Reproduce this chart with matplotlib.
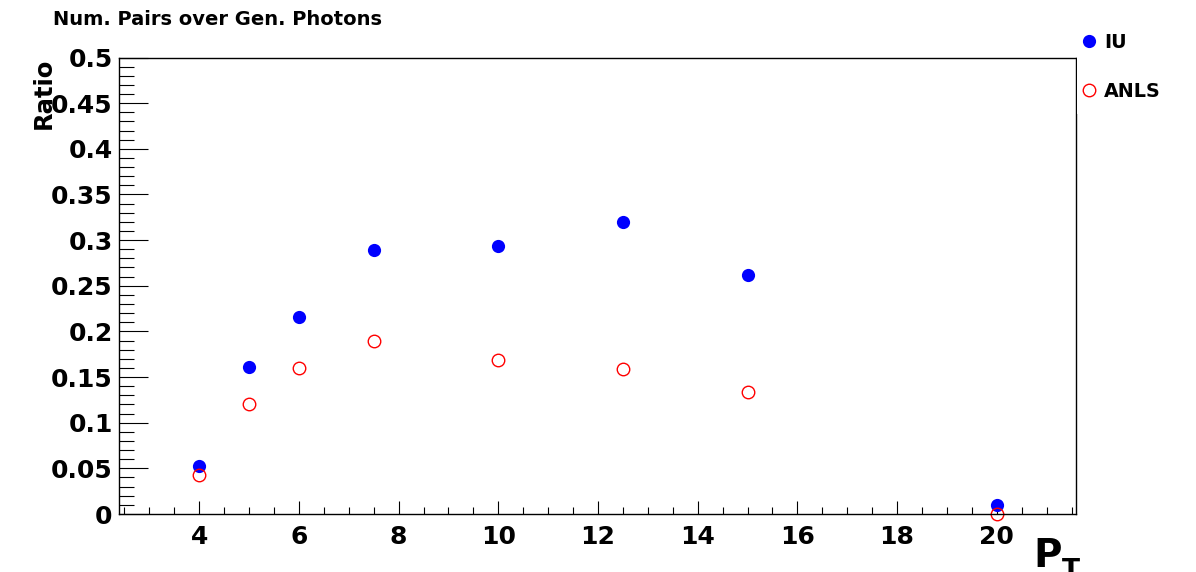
import numpy as np
import matplotlib
matplotlib.use("Agg")
import matplotlib.pyplot as plt
from matplotlib.patches import Rectangle
from matplotlib.lines import Line2D
from matplotlib.ticker import MultipleLocator

plt.rcParams['font.family'] = ['DejaVu Sans']
plt.rcParams['font.weight'] = 'bold'

pt = [4, 5, 6, 7.5, 10, 12.5, 15, 20]
iu = [0.0526, 0.1607, 0.2154, 0.289, 0.2935, 0.3198, 0.2618, 0.0095]
anls = [0.0427, 0.1201, 0.1596, 0.189, 0.1687, 0.159, 0.1336, 0.0]

W, H = 1196, 572
fig = plt.figure(figsize=(W/100, H/100), dpi=100)
ax = fig.add_axes([119/W, 1-514/H, (1076-119)/W, (514-57.5)/H])

ax.plot(pt, iu, 'o', color=(0, 0, 1), markersize=9.5, markeredgewidth=0, label='IU', clip_on=False)
ax.plot(pt, anls, 'o', markerfacecolor='none', markeredgecolor=(1, 0, 0), markersize=9,
        markeredgewidth=1, label='ANLS', clip_on=False)

ax.set_xlim(2.39, 21.59)
ax.set_ylim(0, 0.5)

ax.xaxis.set_major_locator(MultipleLocator(2))
ax.xaxis.set_minor_locator(MultipleLocator(0.5))
ax.yaxis.set_major_locator(MultipleLocator(0.05))
ax.yaxis.set_minor_locator(MultipleLocator(0.01))
ax.yaxis.set_major_formatter(plt.FuncFormatter(lambda v, p: ('%.2f' % v).rstrip('0').rstrip('.') if v else '0'))

ax.tick_params(axis='both', which='both', direction='in', top=False, right=False, width=0.8)
ax.tick_params(axis='y', which='major', length=21, labelsize=18, pad=4.5)
ax.tick_params(axis='y', which='minor', length=10.5)
ax.tick_params(axis='x', which='major', length=9.5, labelsize=18, pad=8)
ax.tick_params(axis='x', which='minor', length=5)
for lab in ax.get_xticklabels() + ax.get_yticklabels():
    lab.set_fontweight('bold')
for s in ax.spines.values():
    s.set_linewidth(1.0)

ax.set_ylabel('Ratio', fontsize=17.5, fontweight='bold')
ax.yaxis.label.set_verticalalignment('center')
ax.yaxis.label.set_horizontalalignment('right')
ax.yaxis.set_label_coords(-(119-44)/957, 1.0)

# x-axis title P_T (cut at the bottom edge, as in the original)
fig.text(1033/W, 1-567/H, 'P', fontsize=28, fontweight='bold', ha='left', va='baseline')
fig.text(1062/W, 1-558/H, 'T', fontsize=19, fontweight='bold', ha='left', va='top')

fig.text(53/W, 1-25/H, 'Num. Pairs over Gen. Photons', fontsize=14, fontweight='bold',
         ha='left', va='baseline')

# white legend box that covers the top-right corner of the frame
fig.add_artist(Rectangle((1076.5/W, 1-114/H), 120/W, 114/H, transform=fig.transFigure,
                         facecolor='white', edgecolor='none', zorder=5))
handles = [Line2D([], [], ls='none', marker='o', color=(0, 0, 1), markersize=9.5, markeredgewidth=0),
           Line2D([], [], ls='none', marker='o', markerfacecolor='none', markeredgecolor=(1, 0, 0),
                  markersize=9, markeredgewidth=1)]
leg = fig.legend(handles, ['IU', 'ANLS'], loc='upper left', bbox_to_anchor=(1081.3/W, 1-33/H),
                 frameon=False, prop={'weight': 'bold', 'size': 13.8}, handlelength=0.8,
                 handletextpad=0.38, labelspacing=1.55, borderpad=0, borderaxespad=0)
leg.set_zorder(6)

fig.savefig('out.png', dpi=100)
